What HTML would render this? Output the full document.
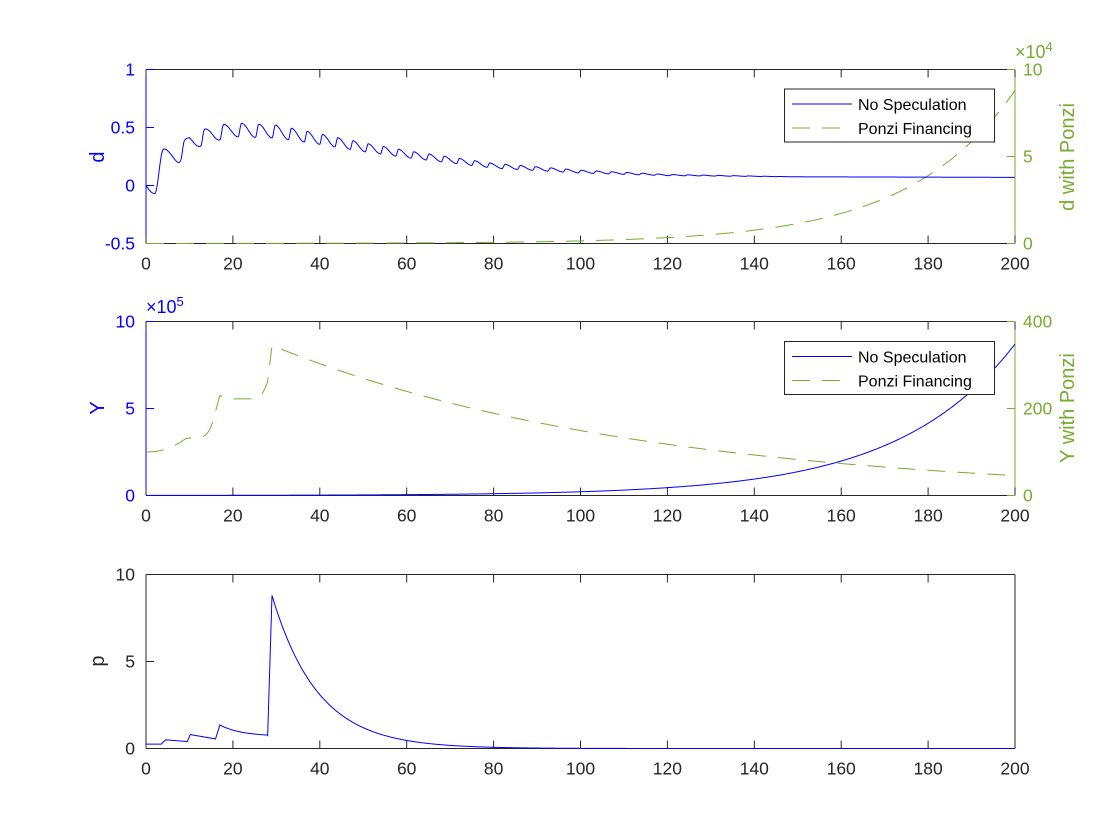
<!DOCTYPE html>
<html><head><meta charset="utf-8"><style>
body{margin:0;background:#fff}
svg{display:block}
text{font-family:"Liberation Sans",Arial,sans-serif}
</style></head><body>
<svg id="s" width="1120" height="840" xmlns="http://www.w3.org/2000/svg"></svg>
<script>
const s=document.getElementById('s');
const X0=146,X1=1015;
const G='#77AC30',B='#0000FF',K='#262626';
let h='<rect width="1120" height="840" fill="#fff"/>';
function X(t){return X0+(X1-X0)*t/200;}
function interp(tab,t){if(t<=tab[0][0])return tab[0][1];for(let i=1;i<tab.length;i++){if(t<=tab[i][0]){const [a,va]=tab[i-1],[b,vb]=tab[i];return va+(vb-va)*(t-a)/(b-a);}}return tab[tab.length-1][1];}
function path(f,t0,t1,y0,y1,v0,v1,n){let d='';for(let i=0;i<=n;i++){const t=t0+(t1-t0)*i/n;let v=f(t);let y=y1-(v-v0)/(v1-v0)*(y1-y0);y=Math.max(y0-2,Math.min(y1,y));d+=(i?'L':'M')+X(t).toFixed(2)+','+y.toFixed(2);}return d;}
function txt(x,y,str,anc,col,size,extra){return `<text x="${x}" y="${y}" text-anchor="${anc}" fill="${col}" font-size="${size||17.5}" ${extra||''}>${str}</text>`;}
function axes(y0,y1,lcol,rcol,lt,rt){
 h+=`<line x1="${X0}" y1="${y0}" x2="${X1}" y2="${y0}" stroke="${K}"/>`;
 h+=`<line x1="${X0}" y1="${y1}" x2="${X1}" y2="${y1}" stroke="${K}"/>`;
 h+=`<line x1="${X0}" y1="${y0}" x2="${X0}" y2="${y1}" stroke="${lcol}"/>`;
 h+=`<line x1="${X1}" y1="${y0}" x2="${X1}" y2="${y1}" stroke="${rcol}"/>`;
 for(let t=0;t<=200;t+=20){const x=X(t);
  h+=`<line x1="${x}" y1="${y1}" x2="${x}" y2="${y1-8}" stroke="${K}"/><line x1="${x}" y1="${y0}" x2="${x}" y2="${y0+8}" stroke="${K}"/>`;
  h+=txt(x,y1+26,t,'middle',K);}
 lt.forEach(([fr,l])=>{const y=y1-(y1-y0)*fr;h+=`<line x1="${X0}" y1="${y}" x2="${X0+8}" y2="${y}" stroke="${lcol}"/>`;h+=txt(X0-11,y+6,l,'end',lcol);});
 if(rt) rt.forEach(([fr,l])=>{const y=y1-(y1-y0)*fr;h+=`<line x1="${X1}" y1="${y}" x2="${X1-8}" y2="${y}" stroke="${rcol}"/>`;h+=txt(X1+8,y+6,l,'start',rcol);});
}
function legend(y){
 h+=`<rect x="784.5" y="${y}" width="210" height="53" fill="#fff" stroke="${K}"/>`;
 h+=`<line x1="792" y1="${y+15}" x2="852" y2="${y+15}" stroke="${B}"/>`;
 h+=`<line x1="792" y1="${y+39}" x2="852" y2="${y+39}" stroke="${G}" stroke-dasharray="18,12"/>`;
 h+=txt(858,y+21,'No Speculation','start','#000',16);
 h+=txt(858,y+45,'Ponzi Financing','start','#000',16);
}
// ---- Plot 1
const a1=69.5,b1=243.5;
axes(a1,b1,B,G,[[0,'-0.5'],[1/3,'0'],[2/3,'0.5'],[1,'1']],[[0,'0'],[0.5,'5'],[1,'10']]);
const meanT=[[4,0.25],[7.5,0.26],[10,0.37],[15,0.44],[20,0.48],[30,0.465],[40,0.40],[50,0.33],[60,0.27],[80,0.17],[100,0.12],[120,0.09],[150,0.075],[200,0.07]];
const ampT=[[4,0.065],[10,0.07],[20,0.06],[30,0.055],[40,0.045],[60,0.03],[80,0.02],[100,0.012],[120,0.005],[150,0.0]];
const perT=[[4,5],[15,4.4],[25,3.9],[40,3.5],[200,3.5]];
// precompute phase
const phs=[];{let ph=0.2,dt=0.01;for(let t=4;t<=200.01;t+=dt){phs.push(ph);ph+=dt/interp(perT,t);}}
function dfun(t){
 if(t<4){ if(t<2) return -0.07*Math.sin(Math.PI*t/4); return -0.07+0.38*(1-Math.cos(Math.PI*(t-2)/2))/2;}
 const ph=phs[Math.min(phs.length-1,Math.round((t-4)/0.01))];
 const f=ph-Math.floor(ph);
 const w=f<0.2? -Math.cos(Math.PI*f/0.2): Math.cos(Math.PI*(f-0.2)/0.8);
 return interp(meanT,t)+interp(ampT,t)*w;
}
h+=`<path d="${path(t=>8.8e4*Math.exp(0.0407*(t-200)),0,200,a1,b1,0,1e5,400)}" fill="none" stroke="${G}" stroke-dasharray="18,12"/>`;
h+=`<path d="${path(dfun,0,200,a1,b1,-0.5,1,3000)}" fill="none" stroke="${B}"/>`;
legend(89);
h+=txt(1015,58,'×10<tspan font-size="13" dy="-7">4</tspan>','start',G,18);
h+=`<text transform="translate(104,157) rotate(-90)" text-anchor="middle" fill="${B}" font-size="20">d</text>`;
h+=`<text transform="translate(1074,157) rotate(-90)" text-anchor="middle" fill="${G}" font-size="20">d with Ponzi</text>`;
// ---- Plot 2
const a2=321.5,b2=495.5;
axes(a2,b2,B,G,[[0,'0'],[0.5,'5'],[1,'10']],[[0,'0'],[0.5,'200'],[1,'400']]);
function yg(t){
 if(t<9) return 100+30*(t/9)**2.2;
 if(t<15.5) return 130+(1-Math.exp(-(t-9)*0.5))*5+ ((t-12)>0? 40*((t-12)/3.5)**3:0);
 if(t<17) return 175+55*(t-15.5)/1.5;
 if(t<28) return 222+ (t>24? 40*((t-24)/4)**3:0) + (t<18.5? 8*(18.5-t)/1.5:0);
 if(t<29) return 262+83*(t-28);
 return 345*Math.exp(-0.0118*(t-29));
}
h+=`<path d="${path(yg,0,200,a2,b2,0,400,1200)}" fill="none" stroke="${G}" stroke-dasharray="18,12"/>`;
h+=`<path d="${path(t=>8.7e5*Math.exp(0.037*(t-200)),0,200,a2,b2,0,1e6,600)}" fill="none" stroke="${B}"/>`;
legend(341.5);
h+=txt(146,313,'×10<tspan font-size="13" dy="-7">5</tspan>','start',B,18);
h+=`<text transform="translate(104,408) rotate(-90)" text-anchor="middle" fill="${B}" font-size="20">Y</text>`;
h+=`<text transform="translate(1074,408) rotate(-90)" text-anchor="middle" fill="${G}" font-size="20">Y with Ponzi</text>`;
// ---- Plot 3
const a3=574.5,b3=748.5;
axes(a3,b3,K,K,[[0,'0'],[0.5,'5'],[1,'10']],null);
function pf(t){
 if(t<3.5) return 0.25;
 if(t<4.5) return 0.25+0.25*(t-3.5);
 if(t<9.5) return 0.5-0.1*(t-4.5)/5;
 if(t<10.2) return 0.4+0.4*(t-9.5)/0.7;
 if(t<16) return 0.8-0.25*(t-10.2)/5.8;
 if(t<17) return 0.55+0.8*(t-16);
 if(t<28) return 0.7+0.65*Math.exp(-(t-17)/5);
 if(t<29) return 0.75+8.05*(t-28);
 return 8.8*Math.exp(-0.095*(t-29));
}
h+=`<path d="${path(pf,0,200,a3,b3,0,10,2000)}" fill="none" stroke="${B}"/>`;
h+=`<text transform="translate(104,661) rotate(-90)" text-anchor="middle" fill="${K}" font-size="20">p</text>`;
s.innerHTML=h;
</script>
</body></html>
